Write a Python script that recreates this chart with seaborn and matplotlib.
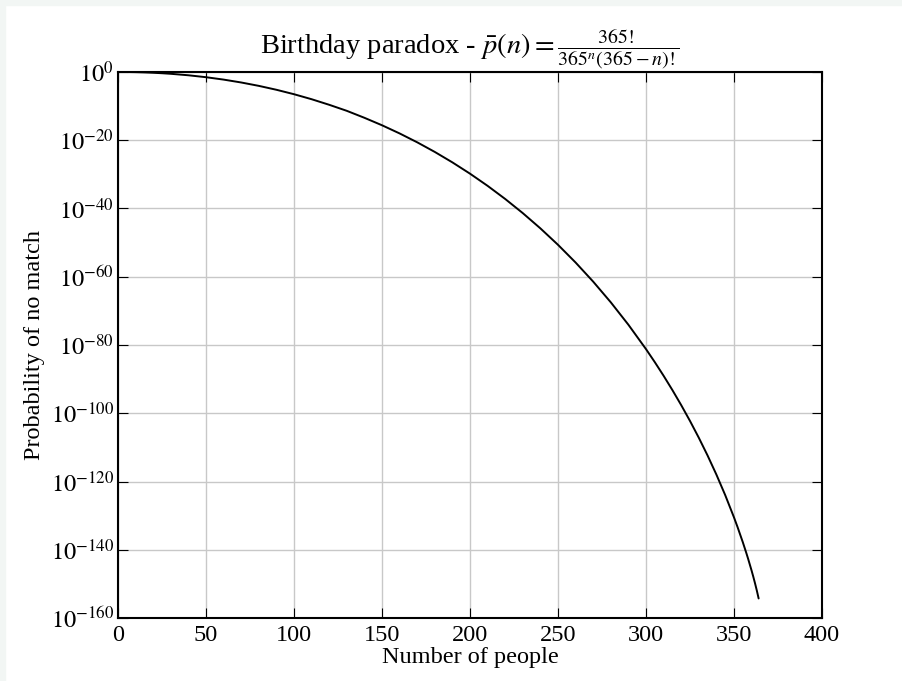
import numpy as np
import pandas as pd
import matplotlib
matplotlib.use("Agg")
import matplotlib.pyplot as plt
import seaborn as sns

# number of people and log10 of the probability of no shared birthday
people = [0, 5, 10, 15, 20, 25, 30, 40, 50, 60, 70, 80, 90, 100, 110, 120, 130, 140,
          150, 160, 170, 180, 190, 200, 210, 220, 230, 240, 250, 260, 270, 280, 290,
          300, 305, 310, 315, 320, 325, 330, 335, 340, 345, 350, 352, 355, 357, 358,
          360, 361, 362, 363, 364]
log_prob = [0.0, -0.012, -0.054, -0.127, -0.230, -0.365, -0.532, -0.964, -1.529,
            -2.231, -3.076, -4.067, -5.211, -6.513, -7.978, -9.613, -11.382, -13.421,
            -15.611, -18.002, -20.604, -23.428, -26.487, -29.793, -33.362, -37.210,
            -41.357, -45.825, -50.640, -55.830, -61.433, -67.492, -74.060,
            -81.204, -85.020, -89.015, -93.206, -97.612, -102.257, -107.171, -112.392,
            -117.971, -123.977, -130.520, -133.321, -137.774, -140.945, -142.604,
            -146.105, -147.968, -149.930, -152.012, -154.270]

df = pd.DataFrame({"people": people, "prob": np.power(10.0, log_prob)})

sns.set_style("ticks")
plt.rcParams["font.family"] = ["Liberation Serif", "DejaVu Serif"]
plt.rcParams["mathtext.fontset"] = "stix"
plt.rcParams["xtick.direction"] = "in"
plt.rcParams["ytick.direction"] = "in"
plt.rcParams["xtick.top"] = True
plt.rcParams["ytick.right"] = True
for key in ["text.color", "axes.labelcolor", "xtick.color", "ytick.color"]:
    plt.rcParams[key] = "black"

fig = plt.figure(figsize=(9.02, 6.81), dpi=100)
# light strip along the top and left edge, as in the screenshot
fig.patches.append(plt.Rectangle((0, 1 - 5 / 681), 1, 5 / 681, transform=fig.transFigure,
                                 color="#f2f6f4", zorder=0))
fig.patches.append(plt.Rectangle((0, 0), 5 / 902, 1, transform=fig.transFigure,
                                 color="#f2f6f4", zorder=0))
ax = fig.add_axes([0.1308, 0.0925, 0.7805, 0.8018])

sns.lineplot(data=df, x="people", y="prob", color="black", linewidth=1.4, ax=ax)
ax.set_yscale("log")
ax.set_xlim(0, 400)
ax.set_ylim(1e-160, 1e0)
ax.set_xticks(range(0, 401, 50))
ax.set_yticks([10.0 ** (-k) for k in range(0, 161, 20)])
ax.set_yticklabels([r"$10^{%d}$" % (-k) if k else r"$10^{0}$" for k in range(0, 161, 20)])
ax.minorticks_off()
ax.tick_params(axis="both", labelsize=17.5, length=7, width=0.8, color="black")
ax.tick_params(axis="x", pad=5)
ax.tick_params(axis="y", pad=3)
for s in ax.spines.values():
    s.set_linewidth(1.5)
    s.set_color("black")
ax.grid(True, color="#c8c8c8", linewidth=1.0)

ax.set_title(r"Birthday paradox - $\bar{p}(n) = \frac{365!}{365^n(365-n)!}$", fontsize=20.5, pad=5)
ax.set_xlabel("Number of people", fontsize=17.5, labelpad=1)
ax.set_ylabel("Probability of no match", fontsize=17.5, labelpad=4)

fig.savefig("out.png", dpi=100, facecolor="white")
